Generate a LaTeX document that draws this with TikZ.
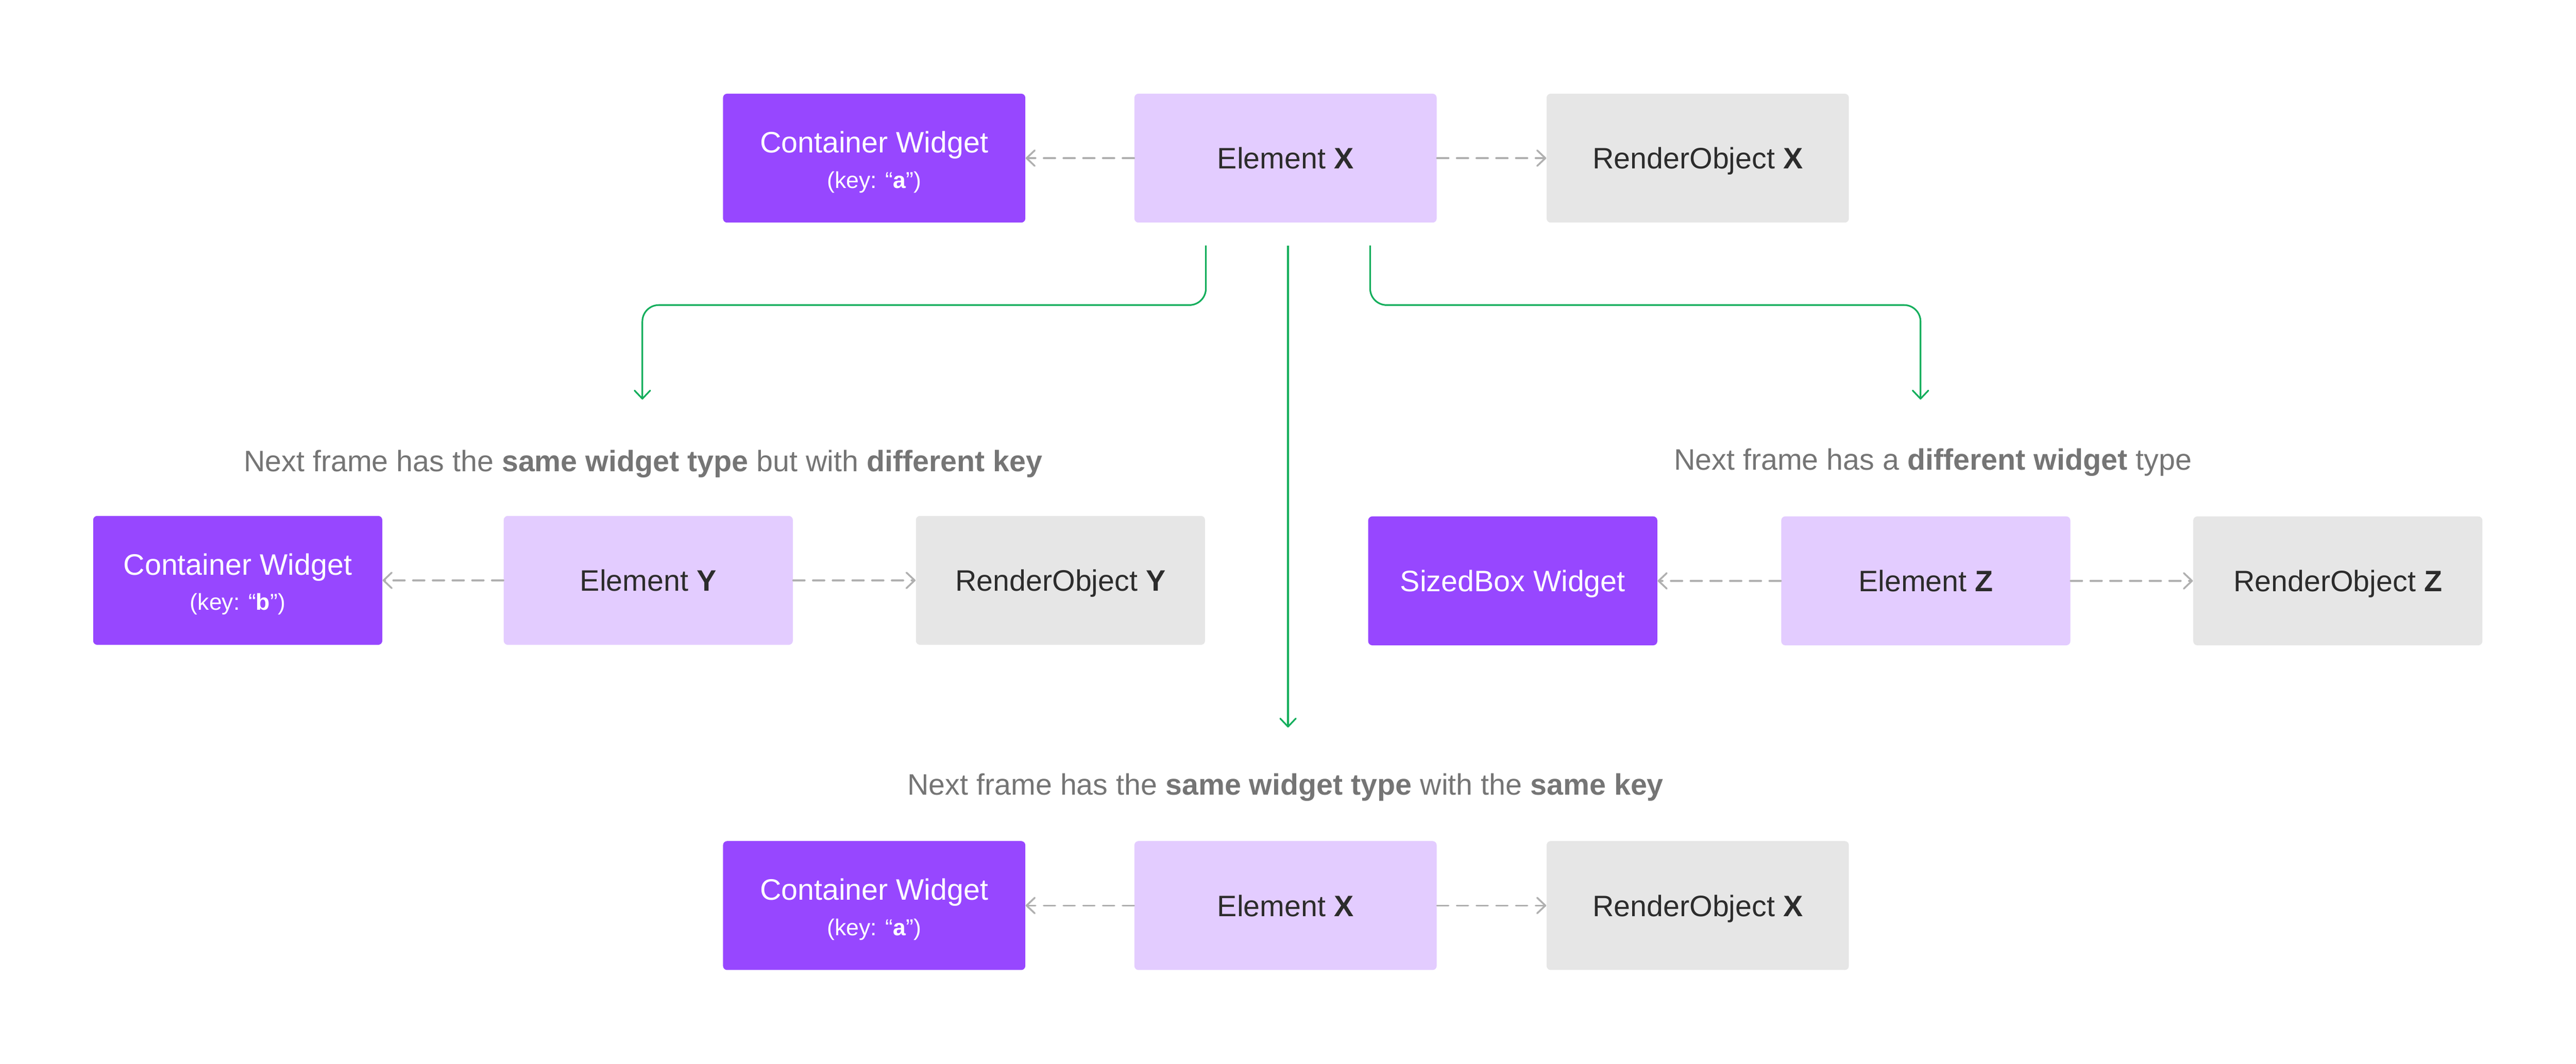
\documentclass[tikz,border=0pt]{standalone}
\usepackage{fontspec}
\setmainfont{Liberation Sans}
\usetikzlibrary{positioning,arrows.meta}

\definecolor{widgetpurple}{HTML}{9747FF}
\definecolor{elemlilac}{HTML}{E3CCFF}
\definecolor{rendergray}{HTML}{E6E6E6}
\definecolor{flowgreen}{HTML}{14AE5C}
\definecolor{linkgray}{HTML}{B0B0B0}
\definecolor{captiongray}{HTML}{757575}
\definecolor{inkdark}{HTML}{2C2C2C}

\newcommand{\keyline}[1]{{\fontsize{14}{21.5}\selectfont (key: “\textbf{#1}”)}}
\newcommand{\cwtext}{\rule{0pt}{17.8pt}Container Widget}

\tikzset{
  box/.style={rectangle, rounded corners=2.5pt, inner sep=0pt, minimum height=78.5pt,
    align=center, font=\fontsize{18}{21.5}\selectfont},
  oneline/.style={text depth=0pt},
  widget/.style={box, fill=widgetpurple, text=white},
  element/.style={box, oneline, fill=elemlilac, text=inkdark},
  render/.style={box, oneline, fill=rendergray, text=inkdark},
  wide/.style={minimum width=184pt},
  narrow/.style={minimum width=176pt},
  link/.style={draw=linkgray, line width=1.1pt, line cap=round, dash pattern=on 7pt off 5pt,
    -{Straight Barb[length=5pt,width=9.5pt,round]}},
  flow/.style={draw=flowgreen, line width=1pt, rounded corners=10pt,
    -{Straight Barb[length=5pt,width=9.5pt,round]}},
  caption/.style={anchor=base, text=captiongray, font=\fontsize{18}{21.5}\selectfont}
}

\begin{document}
\begin{tikzpicture}[x=1pt,y=-1pt]
  \useasboundingbox (0,0) rectangle (1568,647.7);

  % current frame
  \node[element,wide] (ex1) at (782.5,96.3) {Element \textbf{X}};
  \node[widget,wide,left=66pt of ex1] (cw1) {\cwtext\\\keyline{a}};
  \node[render,wide,right=66.5pt of ex1] (ro1) {RenderObject \textbf{X}};

  % different key
  \node[caption] (capY) at (391.5,287) {Next frame has the \textbf{same widget type} but with \textbf{different key}};
  \node[element,narrow] (exY) at (394.6,353.4) {Element \textbf{Y}};
  \node[widget,narrow,left=73.5pt of exY] (cwY) {\cwtext\\\keyline{b}};
  \node[render,narrow,right=74.5pt of exY] (roY) {RenderObject \textbf{Y}};

  % different type
  \node[caption] (capZ) at (1176.5,286.3) {Next frame has a \textbf{different widget} type};
  \node[element,narrow] (exZ) at (1172.2,353.7) {Element \textbf{Z}};
  \node[widget,oneline,narrow,left=75pt of exZ] (sbZ) {SizedBox Widget};
  \node[render,narrow,right=74.4pt of exZ] (roZ) {RenderObject \textbf{Z}};

  % same type, same key
  \node[caption] (capX) at (782.5,484) {Next frame has the \textbf{same widget type} with the \textbf{same key}};
  \node[element,wide] (ex2) at (782.5,551.4) {Element \textbf{X}};
  \node[widget,wide,left=66pt of ex2] (cw2) {\cwtext\\\keyline{a}};
  \node[render,wide,right=66.5pt of ex2] (ro2) {RenderObject \textbf{X}};

  \coordinate (toY) at (391,243.3);
  \coordinate (toZ) at (1169,243.3);
  \coordinate (toX) at (784,443);

  \draw[link] (ex1) -- (cw1);
  \draw[link] (ex1) -- (ro1);
  \draw[link] (exY) -- (cwY);
  \draw[link] (exY) -- (roY);
  \draw[link] (exZ) -- (sbZ);
  \draw[link] (exZ) -- (roZ);
  \draw[link] (ex2) -- (cw2);
  \draw[link] (ex2) -- (ro2);

  \draw[flow] ([xshift=-48.5pt,yshift=-13.7pt]ex1.south) -- ++(0,36.3) -| (toY);
  \draw[flow] ([xshift=1.5pt,yshift=-13.7pt]ex1.south) -- (toX);
  \draw[flow] ([xshift=51.5pt,yshift=-13.7pt]ex1.south) -- ++(0,36.3) -| (toZ);
\end{tikzpicture}
\end{document}
